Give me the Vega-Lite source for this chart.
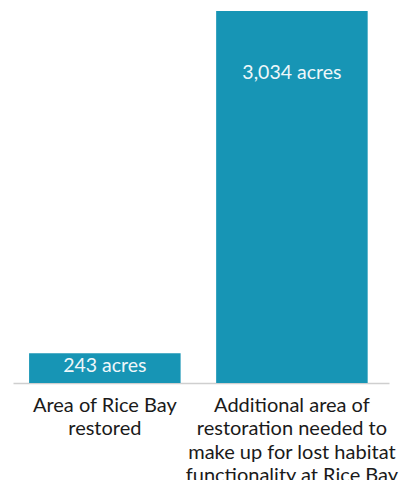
{
  "$schema": "https://vega.github.io/schema/vega-lite/v6.json",
  "width": 376,
  "height": 372,
  "autosize": "none",
  "padding": {"left": 13, "top": 11, "right": 12, "bottom": 97},
  "background": "white",
  "config": {"view": {"stroke": null}, "font": "Lato"},
  "data": {"values": [
    {"category": "Area of Rice Bay|restored", "acres": 243, "label": "243 acres"},
    {"category": "Additional area of|restoration needed to|make up for lost habitat|functionality at Rice Bay", "acres": 3034, "label": "3,034 acres"}
  ]},
  "encoding": {
    "x": {
      "field": "category", "type": "nominal", "sort": null,
      "scale": {"paddingInner": 0.19, "paddingOuter": 0.1, "align": 0.43},
      "axis": {
        "title": null, "labelAngle": 0, "ticks": false,
        "domainColor": "#cfcfcf", "domainWidth": 1.5,
        "labelExpr": "split(datum.label, '|')",
        "labelFontSize": 20, "labelLineHeight": 23.5, "labelColor": "#1a1a1a",
        "labelPadding": 12, "labelBaseline": "top", "labelLimit": 0
      }
    },
    "y": {
      "field": "acres", "type": "quantitative",
      "scale": {"domain": [0, 3034], "nice": false},
      "axis": null
    }
  },
  "layer": [
    {"mark": {"type": "bar", "color": "#1795b5"}},
    {
      "transform": [{"filter": "datum.acres < 1000"}],
      "mark": {"type": "text", "color": "#eef7fa", "fontSize": 19.5, "baseline": "middle", "dy": 13},
      "encoding": {"text": {"field": "label"}}
    },
    {
      "transform": [{"filter": "datum.acres >= 1000"}],
      "mark": {"type": "text", "color": "#eef7fa", "fontSize": 19.5, "baseline": "middle", "dy": 62},
      "encoding": {"text": {"field": "label"}}
    }
  ]
}
